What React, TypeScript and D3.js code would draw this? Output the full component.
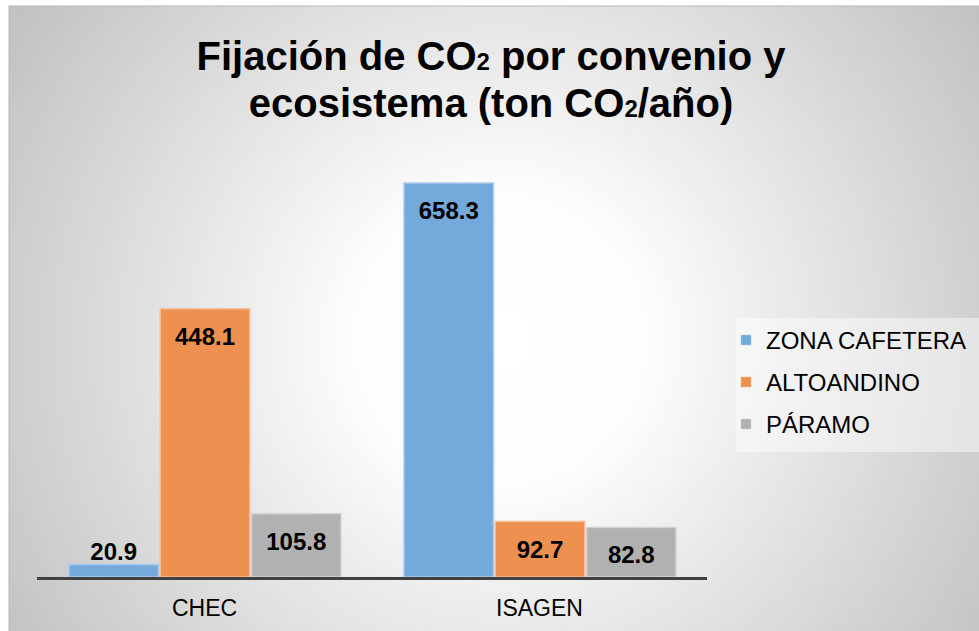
import * as d3 from "d3";

const categories = ["CHEC", "ISAGEN"];
const seriesNames = ["ZONA CAFETERA", "ALTOANDINO", "PÁRAMO"];
const zonaCafetera = [20.9, 658.3];
const altoandino = [448.1, 92.7];
const paramo = [105.8, 82.8];
const seriesValues = [zonaCafetera, altoandino, paramo];
const yDomain = [0, 700];

const colors = ["#74A9DB", "#EE904F", "#B1B1B1"];
const strokes = ["#A9CBEC", "#F5BC95", "#D4D4D4"];

const W = 979;
const H = 631;
const font = "'Liberation Sans', Arial, sans-serif";

export default function App() {
  const x0 = d3.scaleBand().domain(categories).range([37, 707]);
  const x1 = d3
    .scaleBand()
    .domain(seriesNames)
    .range([32, x0.bandwidth() - 31])
    .paddingInner(0.02);
  const y = d3.scaleLinear().domain(yDomain).range([577, 158.05]);

  const fmt = d3.format(".1f");

  return (
    <div style={{ position: "absolute", left: 0, top: 0 }}>
      <svg width={W} height={H} style={{ display: "block" }} fontFamily={font}>
        <defs>
          <radialGradient id="bg" gradientUnits="userSpaceOnUse" cx={500} cy={340} r={580}>
            <stop offset="0" stopColor="#ffffff" />
            <stop offset="0.25" stopColor="#fdfdfd" />
            <stop offset="1" stopColor="#c2c2c2" />
          </radialGradient>
        </defs>
        <rect x={0} y={0} width={W} height={H} fill="#ffffff" />
        <rect x={9} y={6} width={W} height={H} fill="url(#bg)" stroke="#b8b8b8" strokeWidth={1} />

        {/* title */}
        <text x={491} y={70} textAnchor="middle" fontSize={40} fontWeight="bold" fill="#000">
          Fijación de CO<tspan fontSize={24}>2</tspan> por convenio y
        </text>
        <text x={491} y={117} textAnchor="middle" fontSize={40} fontWeight="bold" fill="#000">
          ecosistema (ton CO<tspan fontSize={24}>2</tspan>/año)
        </text>

        {/* bars */}
        {categories.map((cat, ci) => (
          <g key={cat} transform={`translate(${x0(cat)},0)`}>
            {seriesNames.map((s, si) => {
              const v = seriesValues[si][ci];
              const top = y(v);
              const h = y(0) - top;
              const bx = x1(s)!;
              const bw = x1.bandwidth();
              const inside = h > 40;
              return (
                <g key={s}>
                  <rect
                    x={bx}
                    y={top}
                    width={bw}
                    height={h}
                    fill={colors[si]}
                    stroke={strokes[si]}
                    strokeWidth={1.5}
                  />
                  <text
                    x={bx + bw / 2}
                    y={inside ? top + 36 : top - 4}
                    textAnchor="middle"
                    fontSize={24}
                    fontWeight="bold"
                    fill="#000"
                  >
                    {fmt(v)}
                  </text>
                </g>
              );
            })}
          </g>
        ))}

        {/* axis line */}
        <line x1={37} x2={707} y1={y(0) + 1.5} y2={y(0) + 1.5} stroke="#404040" strokeWidth={3} />

        {/* category labels */}
        {categories.map((cat) => (
          <text
            key={cat}
            x={x0(cat)! + x0.bandwidth() / 2}
            y={616}
            textAnchor="middle"
            fontSize={23}
            fill="#000"
          >
            {cat}
          </text>
        ))}

        {/* legend */}
        <rect x={736} y={318} width={243} height={134} fill="#ffffff" fillOpacity={0.45} />
        {seriesNames.map((s, i) => (
          <g key={s} transform={`translate(741,${340 + i * 42})`}>
            <rect x={0} y={-5} width={10} height={10} fill={colors[i]} stroke={strokes[i]} strokeWidth={0.5} />
            <text x={25} y={8.5} fontSize={24} fill="#000">
              {s}
            </text>
          </g>
        ))}
      </svg>
    </div>
  );
}
